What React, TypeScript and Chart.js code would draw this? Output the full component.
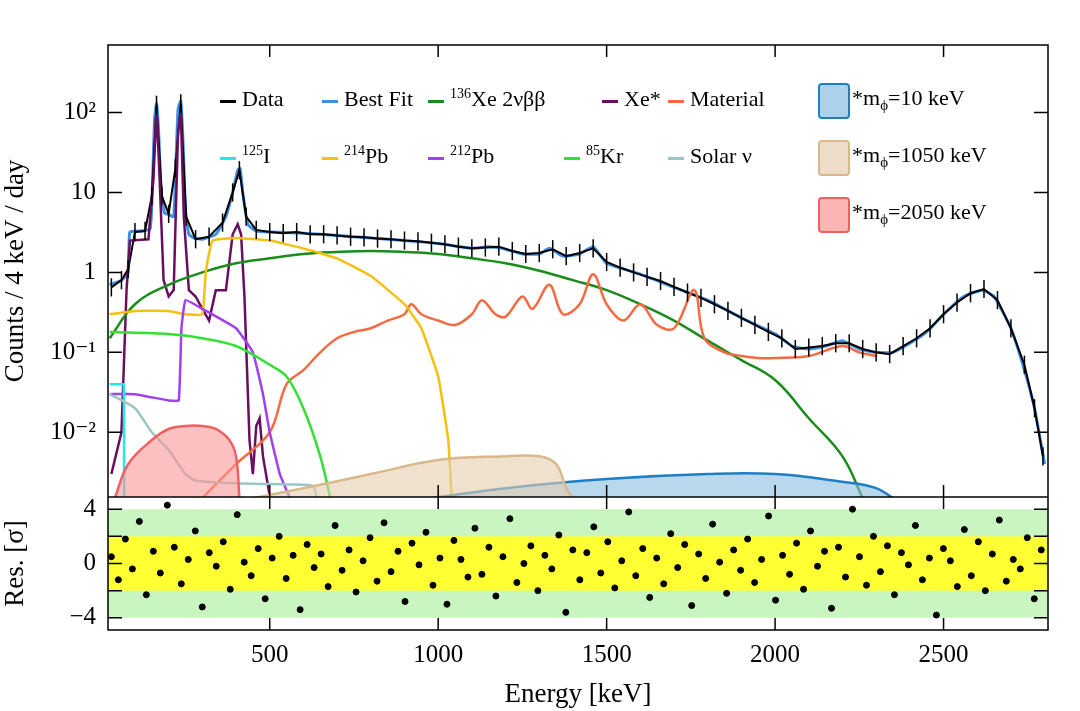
import React, { useEffect, useRef } from "react";
import { Chart, registerables } from "chart.js";
Chart.register(...registerables);

type P = [number, number];
const bestFit: P[] = [[25,0.7],[60,0.8],[80,1],[85,3.2],[120,3.3],[145,3.5],[152,12],[158,80],[164,130],[170,60],[178,10],[188,5.5],[200,5.3],[215,5],[222,25],[228,110],[236,140],[243,40],[250,6],[260,3],[275,2.7],[300,2.6],[340,3],[370,5],[390,10],[405,19],[412,20],[420,10],[435,4],[460,3.3],[500,3.2],[600,3.1],[700,2.9],[800,2.7],[900,2.5],[1000,2.3],[1100,2.0],[1150,2.1],[1190,2.0],[1250,1.7],[1300,1.7],[1330,2.0],[1370,1.6],[1420,1.7],[1460,2.1],[1500,1.3],[1600,0.95],[1700,0.65],[1800,0.45],[1900,0.27],[2000,0.17],[2050,0.12],[2100,0.11],[2150,0.12],[2200,0.14],[2250,0.11],[2300,0.1],[2350,0.1],[2400,0.13],[2450,0.18],[2500,0.3],[2560,0.5],[2615,0.6],[2650,0.5],[2700,0.2],[2740,0.06],[2770,0.02],[2800,0.004]];
const dataPts: P[] = [[30,0.65],[60,0.8],[80,1.1],[100,3.2],[130,3.3],[150,9],[164,125],[180,9],[200,5.4],[220,20],[236,130],[252,5],[280,2.6],[320,2.8],[360,4.2],[390,10],[410,19],[430,5],[460,3.4],[500,3.2],[540,3.1],[580,3.2],[620,3.0],[660,3.0],[700,2.9],[740,2.8],[780,2.75],[820,2.65],[860,2.6],[900,2.5],[940,2.45],[980,2.35],[1020,2.25],[1060,2.1],[1100,2.0],[1140,2.05],[1180,2.1],[1220,1.85],[1260,1.7],[1300,1.75],[1340,1.95],[1380,1.6],[1420,1.75],[1460,2.0],[1500,1.35],[1540,1.15],[1580,1.0],[1620,0.88],[1660,0.78],[1700,0.66],[1740,0.56],[1780,0.48],[1820,0.4],[1860,0.33],[1900,0.27],[1940,0.22],[1980,0.18],[2020,0.15],[2060,0.11],[2100,0.115],[2140,0.12],[2180,0.13],[2220,0.13],[2260,0.11],[2300,0.1],[2340,0.095],[2380,0.12],[2420,0.15],[2460,0.2],[2500,0.3],[2540,0.42],[2580,0.55],[2620,0.62],[2660,0.45],[2700,0.2],[2740,0.07],[2770,0.02],[2795,0.005]];
const xe2nbb: P[] = [[25,0.15],[100,0.4],[200,0.7],[300,1.0],[400,1.3],[500,1.5],[600,1.7],[700,1.8],[800,1.85],[900,1.8],[1000,1.7],[1100,1.5],[1200,1.3],[1300,1.05],[1400,0.8],[1500,0.6],[1600,0.4],[1700,0.25],[1800,0.14],[1900,0.08],[2000,0.045],[2100,0.015],[2200,0.005],[2260,0.0015]];
const xeStar: P[] = [[30,0.003],[60,0.01],[75,0.6],[85,2.5],[140,2.6],[155,15],[164,110],[172,20],[185,0.8],[200,0.5],[215,0.6],[228,60],[236,100],[245,5],[260,0.6],[280,0.5],[300,0.35],[320,0.25],[340,0.6],[370,0.6],[390,3],[405,4],[415,3],[425,0.5],[440,0.008],[450,0.003],[460,0.012],[470,0.015],[480,0.005],[500,0.0016]];
const material: P[] = [[300,0.0015],[400,0.004],[500,0.01],[550,0.04],[600,0.06],[650,0.1],[700,0.15],[750,0.18],[800,0.2],[850,0.25],[900,0.3],[920,0.4],[950,0.3],[1000,0.25],[1050,0.22],[1100,0.3],[1130,0.45],[1170,0.3],[1200,0.28],[1250,0.5],[1280,0.35],[1330,0.7],[1370,0.3],[1420,0.4],[1460,0.95],[1500,0.4],[1550,0.25],[1600,0.4],[1650,0.22],[1700,0.2],[1760,0.6],[1790,0.15],[1850,0.1],[1900,0.09],[1950,0.085],[2000,0.085],[2100,0.09],[2200,0.12],[2250,0.1],[2300,0.09]];
const pb214: P[] = [[25,0.3],[100,0.33],[200,0.33],[250,0.3],[300,0.3],[310,1.0],[330,2.5],[400,2.7],[500,2.5],[600,2.0],[700,1.5],[800,0.9],[900,0.4],[950,0.2],[1000,0.05],[1030,0.008],[1040,0.0015]];
const pb212: P[] = [[25,0.03],[100,0.03],[200,0.025],[230,0.025],[238,0.2],[250,0.45],[300,0.35],[400,0.2],[450,0.1],[480,0.03],[500,0.01],[530,0.003],[560,0.0015]];
const kr85: P[] = [[25,0.18],[200,0.17],[300,0.15],[400,0.12],[500,0.07],[550,0.05],[600,0.02],[650,0.005],[680,0.0015]];
const i125: P[] = [[25,0.04],[60,0.04],[67,0.04],[68,0.0015]];
const solarNu: P[] = [[25,0.03],[100,0.02],[150,0.01],[200,0.006],[250,0.003],[280,0.0025],[400,0.0023],[600,0.0022],[630,0.0021],[640,0.0015]];
const m10: P[] = [[980,0.0015],[1200,0.002],[1500,0.0026],[1800,0.003],[2000,0.003],[2200,0.0024],[2300,0.002],[2350,0.0015]];
const m1050: P[] = [[450,0.0015],[600,0.002],[800,0.003],[1000,0.0045],[1200,0.005],[1300,0.005],[1350,0.004],[1380,0.002],[1400,0.0015]];
const m2050: P[] = [[40,0.0015],[80,0.004],[150,0.008],[200,0.011],[250,0.012],[300,0.012],[340,0.011],[380,0.008],[400,0.005],[410,0.0015]];
const residuals = [0.5,-1.2,1.8,-0.4,3.1,-2.3,0.9,-0.7,4.3,1.2,-1.5,0.3,2.4,-3.2,0.8,-0.2,1.6,-1.9,3.6,0.1,-0.9,1.1,-2.6,0.4,2.0,-1.1,0.6,-3.4,1.4,-0.3,0.7,-1.7,2.8,-0.5,1.0,-2.1,0.2,1.9,-1.3,3.0,-0.6,0.9,-2.8,1.5,-0.1,2.3,-1.6,0.4,-3.0,1.7,0.3,-1.0,2.6,-0.8,1.2,-2.4,0.5,3.3,-1.4,0.0,1.3,-2.0,0.6,-0.4,2.1,-3.6,1.0,-1.2,0.8,2.7,-0.7,1.6,-1.8,0.2,3.8,-0.9,1.1,-2.5,0.4,-1.5,2.2,-0.3,1.4,-3.1,0.7,-1.1,2.9,0.1,-2.2,1.0,-0.5,1.8,-1.4,0.3,3.5,-2.7,0.6,-0.8,1.5,-1.9,2.4,-0.2,0.9,-3.3,1.2,-1.0,4.0,0.5,-1.6,2.0,-0.6,1.3,-2.3,0.8,-0.1,2.8,-1.2,0.4,-3.8,1.1,0.2,-1.7,2.5,-0.9,1.6,-2.0,0.7,3.2,-1.3,0.3,-0.4,1.9,-2.6,1.0];
const xTicks = [500, 1000, 1500, 2000, 2500];
const yTicks = [0.01, 0.1, 1, 10, 100];
const resTicks = [-4, -2, 0, 2, 4];

const FONT = "'Liberation Serif', 'DejaVu Serif', serif";
const pts = (a: P[]) => a.map(([x, y]) => ({ x, y }));
const line = (label: string, a: P[], color: string, w = 2.5, extra: any = {}) => ({
  label, data: pts(a), borderColor: color, borderWidth: w, pointRadius: 0, yAxisID: "y", tension: 0.3, fill: false, ...extra,
});

const frame = {
  id: "frame",
  beforeDatasetsDraw(chart: any) {
    const { ctx, chartArea: a, scales } = chart;
    const yr = scales.yr;
    ctx.save();
    ctx.fillStyle = "#c8f5c0";
    ctx.fillRect(a.left, yr.getPixelForValue(4), a.width, yr.getPixelForValue(-4) - yr.getPixelForValue(4));
    ctx.fillStyle = "#ffff33";
    ctx.fillRect(a.left, yr.getPixelForValue(2), a.width, yr.getPixelForValue(-2) - yr.getPixelForValue(2));
    ctx.restore();
  },
  afterDatasetsDraw(chart: any) {
    const { ctx, chartArea: a, scales } = chart;
    const x = scales.x, y = scales.y, yr = scales.yr;
    ctx.save();
    ctx.strokeStyle = "#000"; ctx.lineWidth = 1.5;
    dataPts.forEach(([e, v]) => {
      const px = x.getPixelForValue(e);
      const t = Math.max(y.getPixelForValue(v * 1.3), y.top);
      const b = Math.min(y.getPixelForValue(v / 1.3), y.bottom);
      ctx.beginPath(); ctx.moveTo(px, t); ctx.lineTo(px, b); ctx.stroke();
    });
    ctx.strokeRect(a.left, a.top, a.width, a.height);
    ctx.beginPath(); ctx.moveTo(a.left, y.bottom); ctx.lineTo(a.right, y.bottom); ctx.stroke();
    xTicks.forEach((t) => {
      const px = x.getPixelForValue(t);
      [[a.top, 1], [y.bottom, -1], [y.bottom, 1], [a.bottom, -1]].forEach(([py, d]) => {
        ctx.beginPath(); ctx.moveTo(px, py); ctx.lineTo(px, py + d * 12); ctx.stroke();
      });
    });
    yTicks.forEach((t) => {
      const py = y.getPixelForValue(t);
      ctx.beginPath(); ctx.moveTo(a.left, py); ctx.lineTo(a.left + 14, py); ctx.moveTo(a.right, py); ctx.lineTo(a.right - 14, py); ctx.stroke();
    });
    resTicks.forEach((t) => {
      const py = yr.getPixelForValue(t);
      ctx.beginPath(); ctx.moveTo(a.left, py); ctx.lineTo(a.left + 14, py); ctx.moveTo(a.right, py); ctx.lineTo(a.right - 14, py); ctx.stroke();
    });
    ctx.restore();
  },
};

const supMap: Record<string, string> = { "-1": "10⁻¹", "-2": "10⁻²", "2": "10²" };

export default function App() {
  const ref = useRef<HTMLCanvasElement>(null);
  useEffect(() => {
    const chart = new Chart(ref.current!, {
      type: "line",
      data: {
        datasets: [
          line("m2050", m2050, "#f06060", 2.5, { fill: "start", backgroundColor: "rgba(250,150,150,0.6)", tension: 0.4 }),
          line("m1050", m1050, "#d9b88c", 2.5, { fill: "start", backgroundColor: "rgba(230,205,175,0.6)", tension: 0.4 }),
          line("m10", m10, "#1f7fc4", 2.5, { fill: "start", backgroundColor: "rgba(140,190,225,0.6)", tension: 0.4 }),
          line("Solar", solarNu, "#9cc5c6", 2.5, { tension: 0.2 }),
          line("I125", i125, "#22e8f0", 2.5, { tension: 0 }),
          line("Kr85", kr85, "#33e033", 2.5),
          line("Pb212", pb212, "#a040f0", 2.5, { tension: 0.1 }),
          line("Pb214", pb214, "#f5c010", 2.5, { tension: 0.1 }),
          line("Material", material, "#f56a40", 2.5, { tension: 0.35 }),
          line("2vbb", xe2nbb, "#1a8c1a", 2.5, { tension: 0.4 }),
          line("XeStar", xeStar, "#6a0f5f", 2.5, { tension: 0 }),
          line("Data", dataPts, "#000", 2, { tension: 0 }),
          line("Fit", bestFit, "#3d8fe8", 3, { tension: 0.15 }),
          {
            label: "res", type: "scatter", yAxisID: "yr",
            data: residuals.map((r, i) => ({ x: 30 + (i * 2760) / (residuals.length - 1), y: r })),
            backgroundColor: "#000", borderColor: "#000", pointRadius: 3,
          } as any,
        ],
      },
      options: {
        animation: false, responsive: false,
        layout: { padding: { top: 45, right: 32, left: 0, bottom: 0 } },
        plugins: { legend: { display: false }, tooltip: { enabled: false } },
        scales: {
          x: {
            type: "linear", min: 20, max: 2810,
            afterBuildTicks: (s: any) => { s.ticks = xTicks.map((v) => ({ value: v })); },
            afterFit: (s: any) => { s.height = 81; },
            grid: { display: false }, border: { display: false },
            ticks: { color: "#000", font: { family: FONT, size: 25 }, padding: 2, callback: (v: any) => String(v) },
            title: { display: true, text: "Energy [keV]", color: "#000", font: { family: FONT, size: 27 }, padding: 0 },
          },
          yr: {
            type: "linear", min: -4.9, max: 4.9, stack: "v", stackWeight: 133, position: "left", offset: false,
            afterBuildTicks: (s: any) => { s.ticks = resTicks.map((v) => ({ value: v })); },
            afterFit: (s: any) => { s.width = 108; },
            grid: { display: false }, border: { display: false },
            ticks: { color: "#000", font: { family: FONT, size: 25 }, padding: 4, callback: (v: any) => String(v).replace("-", "−") },
            title: { display: true, text: "Res. [σ]", color: "#000", font: { family: FONT, size: 27 }, padding: 0 },
          },
          y: {
            type: "logarithmic", min: 0.00155, max: 700, stack: "v", stackWeight: 452, position: "left",
            afterBuildTicks: (s: any) => { s.ticks = yTicks.map((v) => ({ value: v })); },
            afterFit: (s: any) => { s.width = 108; },
            grid: { display: false }, border: { display: false },
            ticks: {
              color: "#000", font: { family: FONT, size: 25 }, padding: 4,
              callback: (v: any) => { const e = Math.round(Math.log10(v)); return supMap[String(e)] ?? String(v); },
            },
            title: { display: true, text: "Counts / 4 keV / day", color: "#000", font: { family: FONT, size: 27 }, padding: 0 },
          },
        },
      } as any,
      plugins: [frame],
    });
    return () => chart.destroy();
  }, []);

  const txt: React.CSSProperties = { position: "absolute", fontFamily: FONT, fontSize: 22, color: "#000", whiteSpace: "nowrap" };
  const leg = (x: number, y: number, color: string, label: React.ReactNode) => (
    <React.Fragment key={x + "_" + y}>
      <div style={{ position: "absolute", left: x, top: y, width: 16, height: 3, background: color }} />
      <div style={{ ...txt, left: x + 22, top: y - 14 }}>{label}</div>
    </React.Fragment>
  );
  const box = (y: number, fill: string, stroke: string, m: string) => (
    <React.Fragment key={m}>
      <div style={{ position: "absolute", left: 818, top: y, width: 28, height: 32, background: fill, border: `2px solid ${stroke}`, borderRadius: 4 }} />
      <div style={{ ...txt, left: 852, top: y + 2 }}>*m<sub style={{ fontSize: 15 }}>ϕ</sub>={m} keV</div>
    </React.Fragment>
  );
  const sup = (s: string) => <sup style={{ fontSize: 14 }}>{s}</sup>;
  return (
    <div style={{ position: "absolute", left: 0, top: 0, width: 1080, height: 711, background: "#fff" }}>
      <canvas ref={ref} width={1080} height={711} />
      {leg(220, 100, "#000", "Data")}
      {leg(322, 100, "#3d8fe8", "Best Fit")}
      {leg(428, 100, "#1a8c1a", <>{sup("136")}Xe 2νββ</>)}
      {leg(602, 100, "#6a0f5f", "Xe*")}
      {leg(668, 100, "#f56a40", "Material")}
      {leg(220, 157, "#22e8f0", <>{sup("125")}I</>)}
      {leg(322, 157, "#f5c010", <>{sup("214")}Pb</>)}
      {leg(428, 157, "#a040f0", <>{sup("212")}Pb</>)}
      {leg(564, 157, "#33e033", <>{sup("85")}Kr</>)}
      {leg(668, 157, "#9cc5c6", "Solar ν")}
      {box(83, "rgba(140,190,225,0.7)", "#1f7fc4", "10")}
      {box(140, "rgba(230,205,175,0.7)", "#d9b88c", "1050")}
      {box(197, "rgba(250,150,150,0.7)", "#f06060", "2050")}
    </div>
  );
}
